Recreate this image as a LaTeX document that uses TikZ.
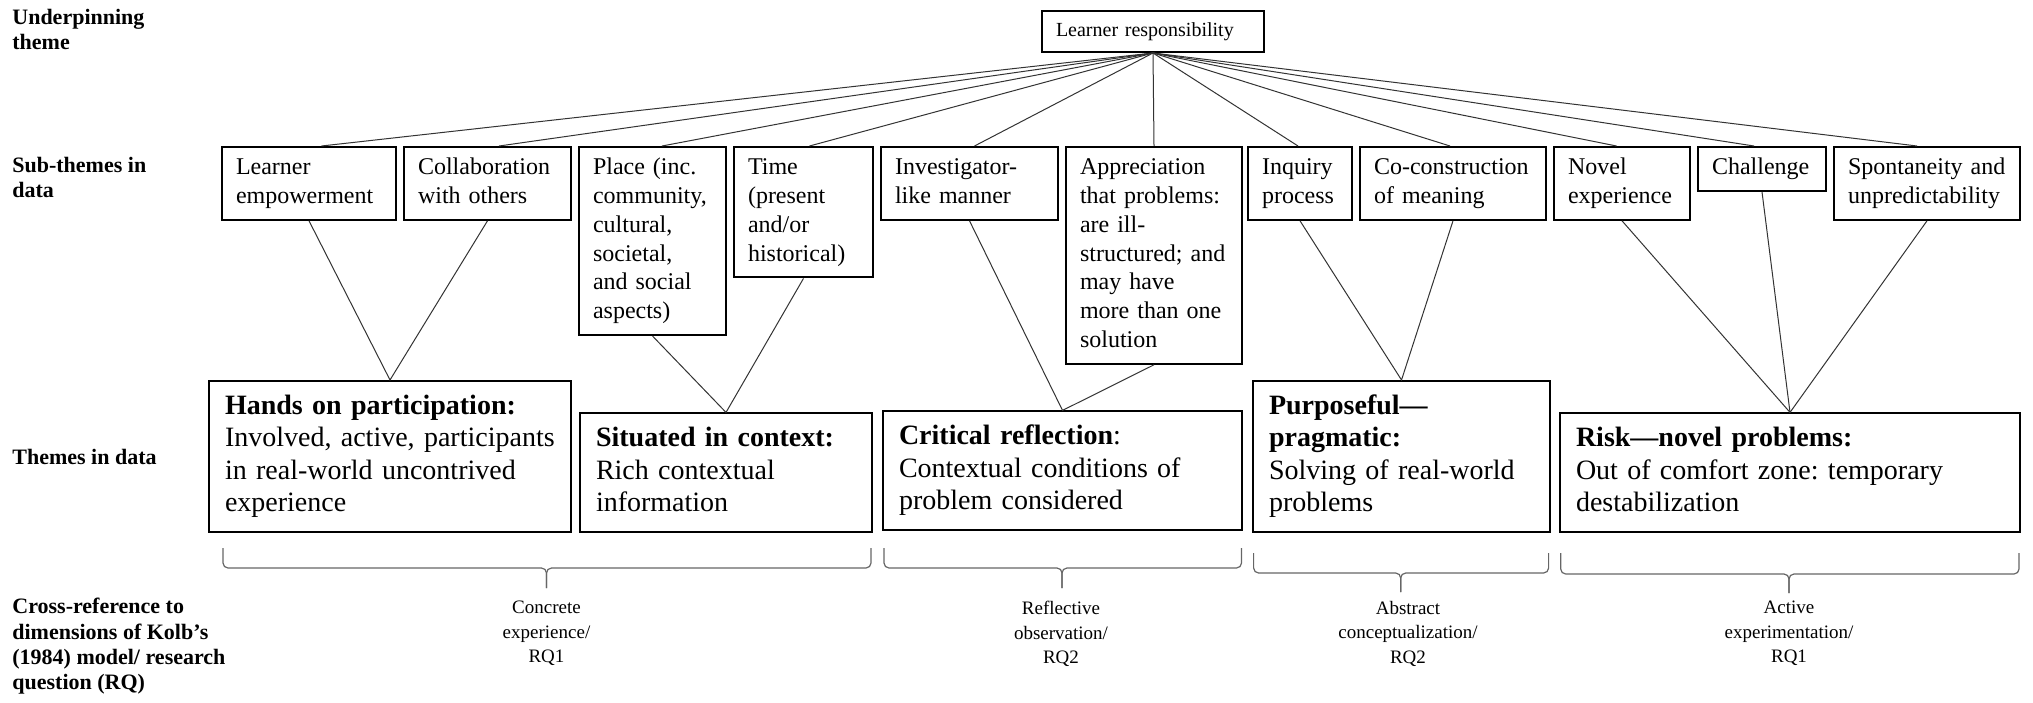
\documentclass[tikz,border=0pt]{standalone}
\usepackage{fontspec}
\setmainfont{Liberation Serif}
\usetikzlibrary{calc}
\hyphenpenalty=10000
\exhyphenpenalty=10000
\newcommand\kbrace[6]{%
  \draw[brace] (#1,#4) -- (#1,#5) -- (#3,#5) -- (#3,#6);
  \draw[brace] (#2,#4) -- (#2,#5) -- (#3,#5) -- (#3,#6);}
\begin{document}
\begin{tikzpicture}[x=0.5pt,y=-0.5pt,
  sub/.style={draw, line width=1pt, inner xsep=7pt, inner ysep=3.8pt, align=left, anchor=north west,
    font=\fontsize{12}{14.4}\selectfont, execute at begin node=\strut, execute at end node=\strut},
  theme/.style={draw, line width=1pt, inner xsep=8pt, inner ysep=5.35pt, align=left, anchor=south west,
    font=\fontsize{14}{16.2}\selectfont, execute at begin node=\strut, execute at end node=\strut},
  lab/.style={inner sep=0pt, anchor=north west, align=left, font=\fontsize{11}{12.6}\selectfont\bfseries,
    execute at begin node=\strut},
  rq/.style={inner sep=0pt, anchor=north, align=center, font=\fontsize{9.5}{12.2}\selectfont,
    execute at begin node=\strut},
  link/.style={draw=black!80, line width=0.5pt},
  brace/.style={draw=black!60, line width=0.6pt, rounded corners=2.5pt}
]
\useasboundingbox (0,0) rectangle (2033,702);

% left row labels
\node[lab] (l1) at (12,9) {Underpinning\\theme};
\node[lab] (l2) at (12,157) {Sub-themes in\\data};
\node[lab] (l3) at (12,446) {Themes in data};
\node[lab] (l4) at (12,598) {Cross-reference to\\dimensions of Kolb’s\\(1984) model/ research\\question (RQ)};

% underpinning theme
\node[draw, line width=1pt, inner xsep=7pt, inner ysep=4.25pt, text width=97pt, align=left, anchor=north west,
  font=\fontsize{10}{12}\selectfont, execute at begin node=\strut] (lr) at (1041,10) {Learner responsibility};

% sub-themes
\node[sub, text width=73pt]   (le)  at (221,146)  {Learner\\empowerment};
\node[sub, text width=69.5pt] (co)  at (403,146)  {Collaboration\\with~others};
\node[sub, text width=59.5pt] (pl)  at (578,146)  {Place~(inc.\\community,\\cultural,\\societal,\\and~social\\aspects)};
\node[sub, text width=55.5pt] (ti)  at (733,146)  {Time\\(present\\and/or\\historical)};
\node[sub, text width=74.5pt] (inv) at (880,146)  {Investigator-\\like~manner};
\node[sub, text width=74pt]   (ap)  at (1065,146) {Appreciation\\that~problems:\\are~ill-\\structured;~and\\may~have\\more~than~one\\solution};
\node[sub, text width=38pt]   (iq)  at (1247,146) {Inquiry\\process};
\node[sub, text width=79pt]   (cc)  at (1359,146) {Co-construction\\of~meaning};
\node[sub, text width=54pt]   (nv)  at (1553,146) {Novel\\experience};
\node[sub, text width=50pt]   (ch)  at (1697,146) {Challenge};
\node[sub, text width=79pt]   (sp)  at (1833,146) {Spontaneity~and\\unpredictability};

% themes
\node[theme, text width=165pt]   (ho) at (208,533)  {\textbf{Hands~on~participation:}\\Involved,~active,~participants\\in~real-world~uncontrived\\experience};
\node[theme, text width=130pt]   (si) at (579,533)  {\textbf{Situated~in~context:}\\Rich~contextual\\information};
\node[theme, text width=163.5pt] (cr) at (882,531)  {\textbf{Critical~reflection}:\\Contextual~conditions~of\\problem~considered};
\node[theme, text width=132.5pt] (pu) at (1252,533) {\textbf{Purposeful—}\\\textbf{pragmatic:}\\Solving~of~real-world\\problems};
\node[theme, text width=214pt]   (ri) at (1559,533) {\textbf{Risk—novel~problems:}\\Out~of~comfort~zone:~temporary\\destabilization};

% connectors from underpinning theme
\foreach \n/\o in {le/12.5, co/11.5, pl/9.5, ti/6, inv/5, ap/0, iq/-2, cc/-3, nv/-5.5, ch/-8, sp/-10}
  \draw[link] (lr.south) -- ($(\n.north)+(\o,0)$);

% connectors sub-themes -> themes
\draw[link] (le.south) -- (ho.north) -- (co.south);
\draw[link] (pl.south) -- (si.north) -- (ti.south);
\draw[link] (inv.south) -- (cr.north) -- (ap.south);
\draw[link] (iq.south) -- (pu.north) -- (cc.south);
\draw[link] (nv.south) -- (ri.north) -- (sp.south);
\draw[link] (ch.south) -- (ri.north);

% braces
\kbrace{223}{871}{546.5}{548}{568}{588}
\kbrace{884}{1241.5}{1062}{548}{568}{588}
\kbrace{1253.6}{1548.6}{1400.7}{553}{573}{592}
\kbrace{1560.7}{2019}{1789}{553}{574}{593}

% Kolb dimensions
\node[rq] (rq1) at (546.5,601) {Concrete\\experience/\\RQ1};
\node[rq] (rq2) at (1061,601)  {Reflective\\observation/\\RQ2};
\node[rq] (rq3) at (1408,601)  {Abstract\\conceptualization/\\RQ2};
\node[rq] (rq4) at (1789,601)  {Active\\experimentation/\\RQ1};
\end{tikzpicture}
\end{document}
